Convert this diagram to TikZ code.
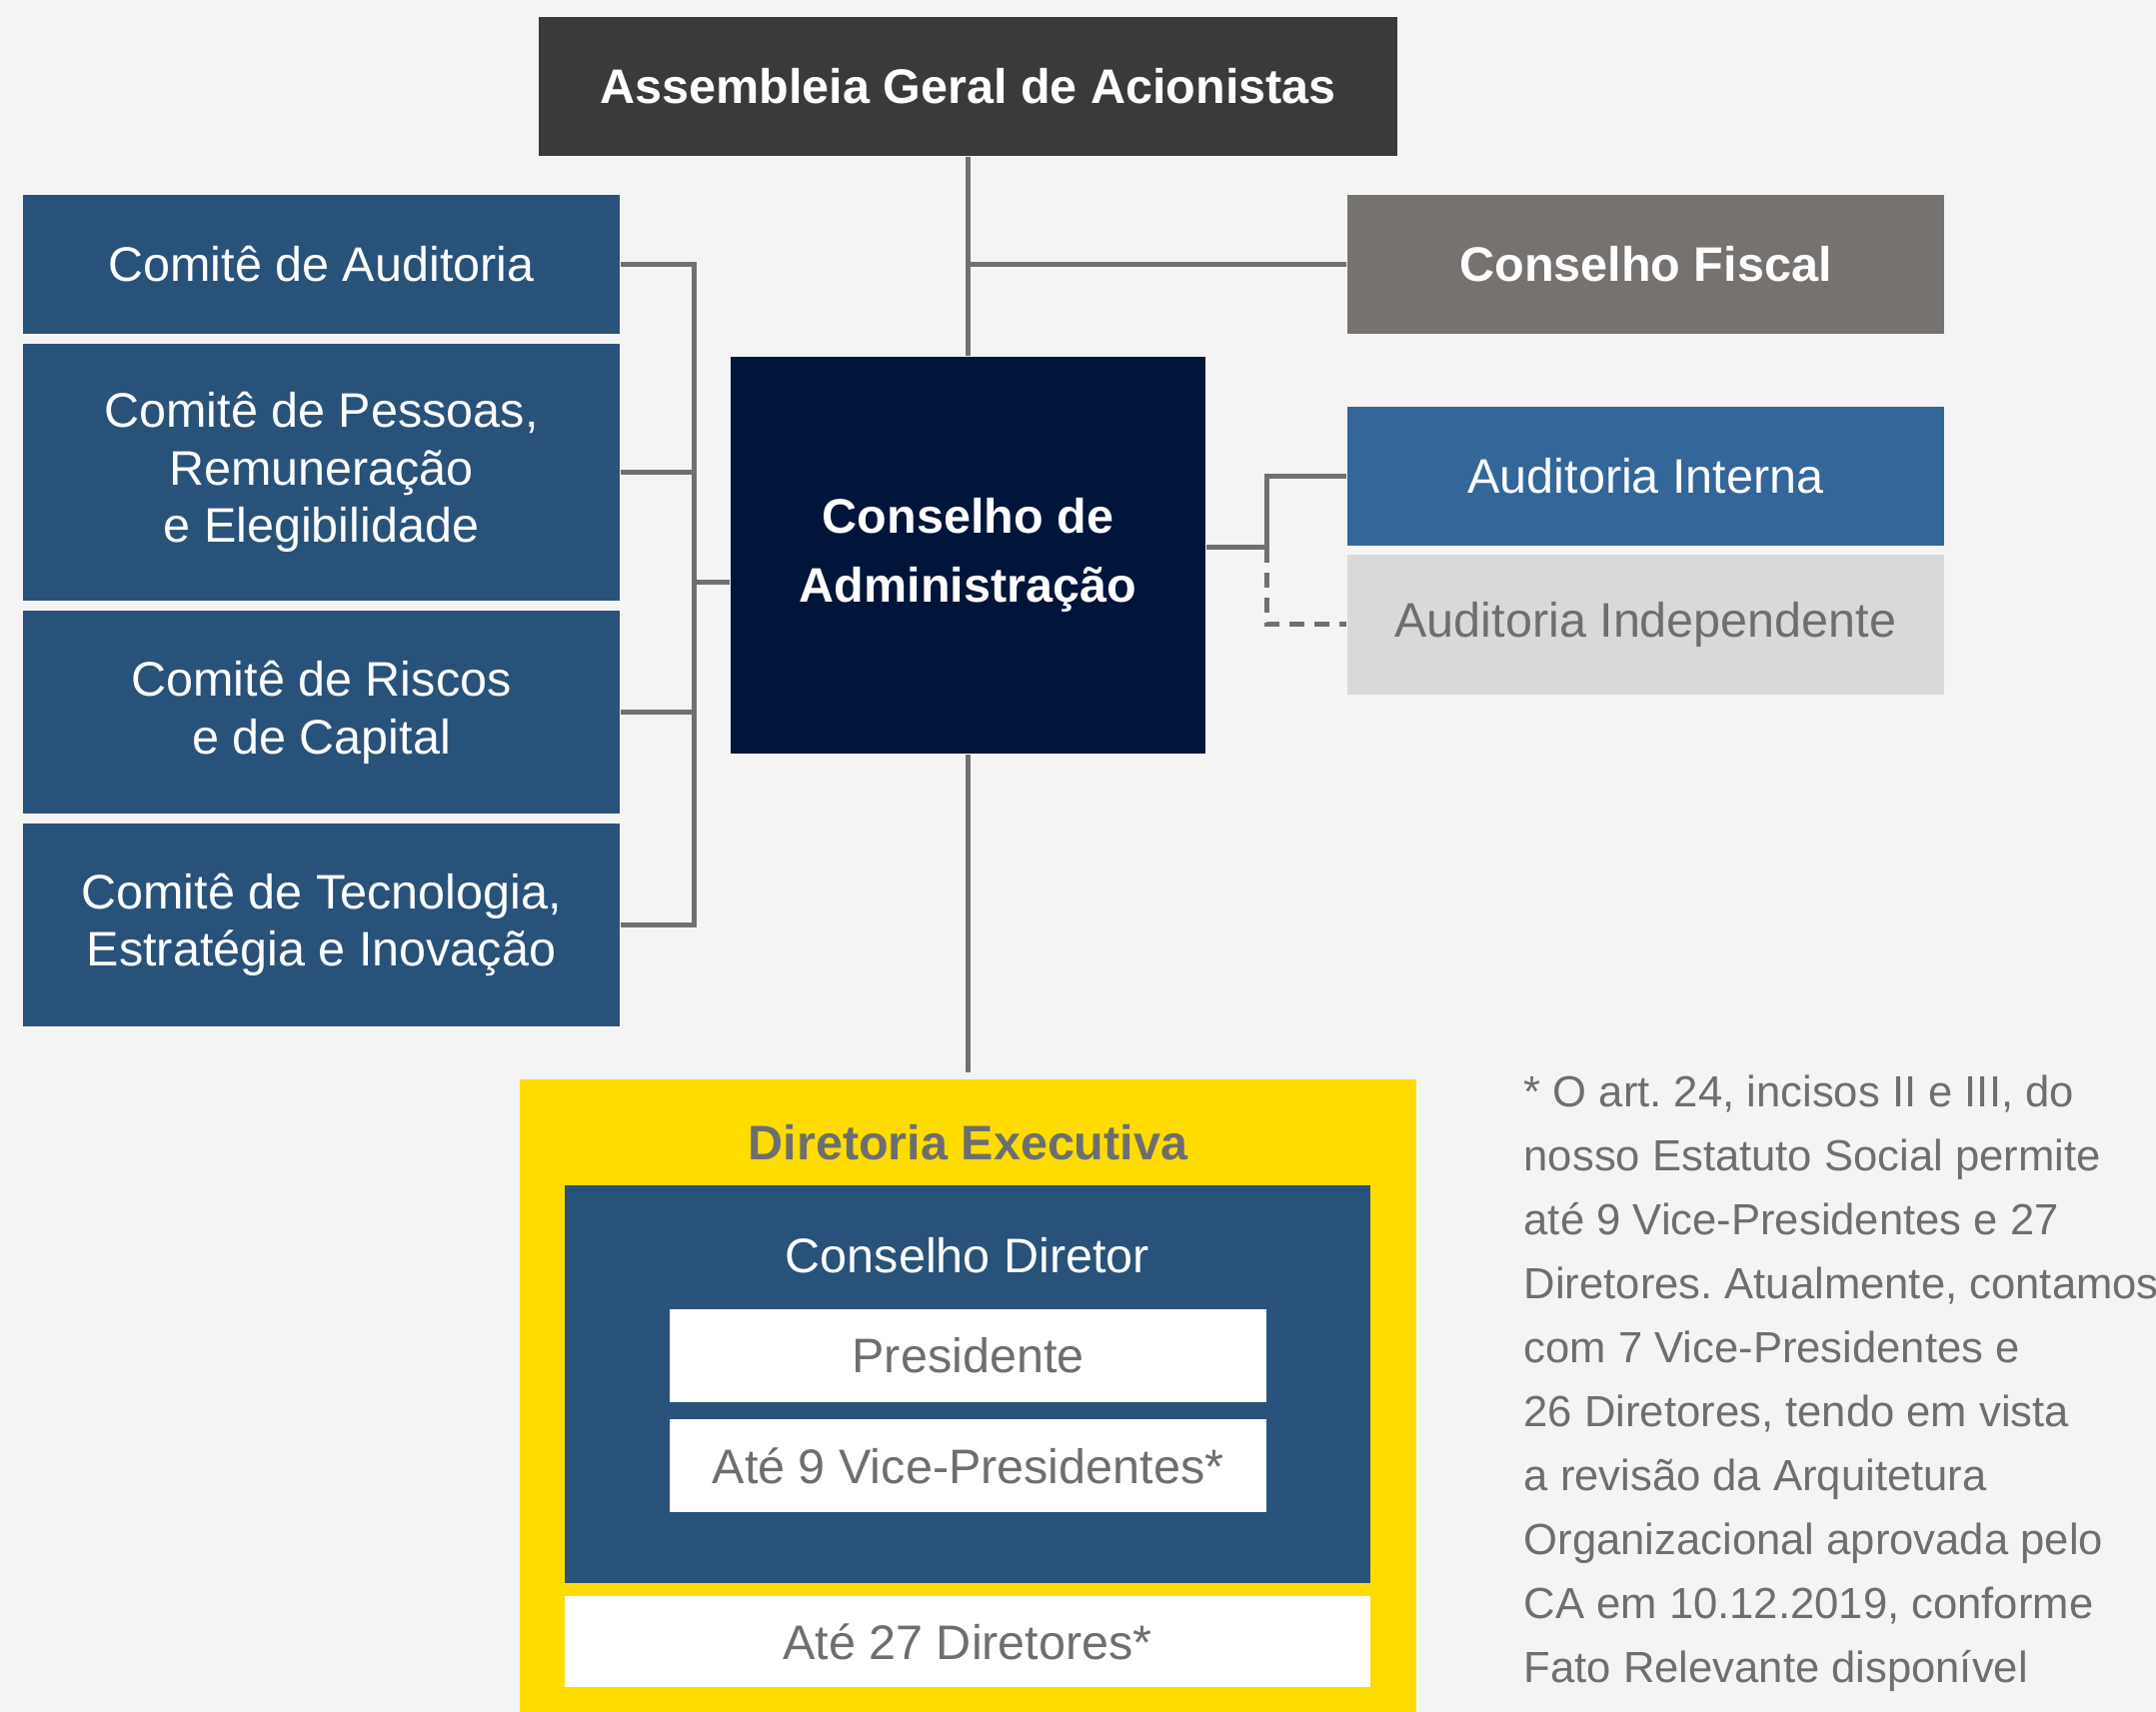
\documentclass[tikz,border=0pt]{standalone}
\usepackage{fontspec}
\setmainfont{Liberation Sans}
\frenchspacing
\usetikzlibrary{calc}
\definecolor{Paper}{RGB}{244,244,244}
\definecolor{Charcoal}{RGB}{60,58,56}
\definecolor{SteelBlue}{RGB}{41,82,122}
\definecolor{Midnight}{RGB}{0,21,57}
\definecolor{Taupe}{RGB}{118,114,112}
\definecolor{MidBlue}{RGB}{51,102,153}
\definecolor{LightGray}{RGB}{217,217,217}
\definecolor{TextGray}{RGB}{109,110,113}
\definecolor{LineGray}{RGB}{112,112,115}
\definecolor{Gold}{RGB}{255,220,0}
\tikzset{
  unit/.style={rectangle,inner sep=0pt,align=center,text=white,font=\fontsize{13.8}{16.45}\selectfont},
  boldunit/.style={unit,font=\bfseries\fontsize{13.8}{19.6}\selectfont},
  agmbox/.style={boldunit,fill=Charcoal,minimum width=8.59cm,minimum height=1.39cm},
  comite/.style={unit,fill=SteelBlue,minimum width=5.97cm},
  sidebox/.style={unit,minimum width=5.97cm,minimum height=1.39cm},
  board/.style={boldunit,fill=Midnight,minimum width=4.75cm,minimum height=3.97cm},
  whitebox/.style={unit,fill=white,text=TextGray},
  link/.style={draw=LineGray,line width=1.42pt},
  dashlink/.style={link,dash pattern=on 4.3pt off 2.8pt}
}
\begin{document}
\begin{tikzpicture}[x=0.01cm,y=-0.01cm]
\fill[Paper] (0,0) rectangle (2157,1713);
\useasboundingbox (0,0) rectangle (2157,1713);

\node[agmbox] (agm) at (968.5,86.5) {Assembleia Geral de Acionistas};
\node[board] (ca) at (968.5,555.5) {Conselho de\\Administração};

\node[comite,minimum height=1.39cm] (com1) at (321.5,264.5) {Comitê de Auditoria};
\node[comite,minimum height=2.57cm] (com2) at (321.5,472.5) {Comitê de Pessoas,\\Remuneração\\e Elegibilidade};
\node[comite,minimum height=2.03cm] (com3) at (321.5,712.5) {Comitê de Riscos\\e de Capital};
\node[comite,minimum height=2.03cm] (com4) at (321.5,925.5) {Comitê de Tecnologia,\\Estratégia e Inovação};

\node[sidebox,fill=Taupe,font=\bfseries\fontsize{13.8}{16.45}\selectfont] (cf) at (1646.5,264.5) {Conselho Fiscal};
\node[sidebox,fill=MidBlue] (ai) at (1646.5,476.5) {Auditoria Interna};
\node[sidebox,fill=LightGray,text=TextGray] (aind) at (1646.5,625) {Auditoria Independente};

\node[unit,fill=Gold,minimum width=8.97cm,minimum height=6.33cm] (dexec) at (968.5,1396.5) {};
\node[boldunit,text=TextGray] (dtitle) at (968.5,1143) {Diretoria Executiva};
\node[unit,fill=SteelBlue,minimum width=8.06cm,minimum height=3.98cm] (cdir) at (968,1385) {};
\node[unit] (cdtitle) at (968,1256) {Conselho Diretor};
\node[whitebox,minimum width=5.97cm,minimum height=0.93cm] (pres) at (968.5,1356.5) {Presidente};
\node[whitebox,minimum width=5.97cm,minimum height=0.93cm] (vice) at (968.5,1466.5) {Até 9 Vice-Presidentes*};
\node[whitebox,minimum width=8.06cm,minimum height=0.91cm] (dir) at (968,1642.5) {Até 27 Diretores*};

\node[anchor=north west,align=left,inner sep=0pt,text=TextGray,font=\fontsize{12.4}{18.2}\selectfont] (nota) at (1524,1075) {* O art. 24, incisos II e III, do\\nosso Estatuto Social permite\\até 9 Vice-Presidentes e 27\\Diretores. Atualmente, contamos\\com 7 Vice-Presidentes e\\26 Diretores, tendo em vista\\a revisão da Arquitetura\\Organizacional aprovada pelo\\CA em 10.12.2019, conforme\\Fato Relevante disponível};

\coordinate (bus) at (694,583);
\coordinate (rj) at (1267,548);

\draw[link] (agm.south) -- (ca.north);
\draw[link] (agm.south |- cf.west) -- (cf.west);
\draw[link,shorten >=0.06cm] (ca.south) -- (dexec.north);
\draw[link] (com1.east) -| (bus) |- (com4.east);
\draw[link] (com2.east) -- (com2.east -| bus);\draw[link] (com3.east) -- (com3.east -| bus);
\draw[link] (bus) -- (bus -| ca.west);
\draw[link] (rj -| ca.east) -- (rj) |- (ai.west);
\draw[dashlink] (rj) |- (aind.west);
\end{tikzpicture}
\end{document}
